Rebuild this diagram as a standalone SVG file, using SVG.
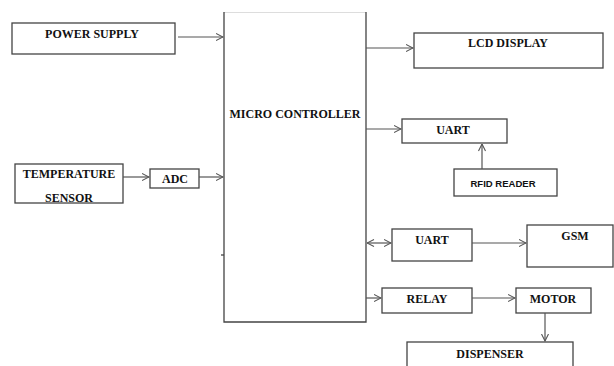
<svg xmlns="http://www.w3.org/2000/svg" width="614" height="366" viewBox="0 0 614 366">
<style>
.box{fill:#fff;stroke:#444;stroke-width:1.3}
.t{font-family:"Liberation Serif","Times New Roman",serif;font-weight:bold;font-size:12px;fill:#111;text-anchor:middle}
.s{font-family:"Liberation Sans",Arial,sans-serif;font-weight:bold;font-size:9.5px;fill:#111;text-anchor:middle}
.c{fill:none;stroke:#555;stroke-width:1.2}
</style>
<defs>
<marker id="ah" viewBox="0 0 8 8" refX="7.5" refY="4" markerWidth="8" markerHeight="8" markerUnits="userSpaceOnUse" orient="auto-start-reverse">
<path d="M0.5,0.5 L7.5,4 L0.5,7.5" fill="none" stroke="#555" stroke-width="1.1"/>
</marker>
</defs>
<rect width="614" height="366" fill="#fff"/>
<g id="mc">
<line x1="224" y1="12.5" x2="366" y2="12.5" stroke="#ddd" stroke-width="1"/>
<path d="M224,12 L224,322 L366,322 L366,12" fill="none" stroke="#444" stroke-width="1.3"/>
<text class="t" x="295" y="118">MICRO CONTROLLER</text>
<line x1="221" y1="255" x2="224" y2="255" stroke="#444" stroke-width="1.3"/>
</g>
<g id="power">
<rect class="box" x="12" y="23" width="163" height="31"/>
<text class="t" x="92" y="38">POWER SUPPLY</text>
</g>
<g id="lcd">
<rect class="box" x="414" y="33" width="189" height="35"/>
<text class="t" x="508" y="47">LCD DISPLAY</text>
</g>
<g id="temp">
<rect class="box" x="15" y="164" width="108" height="39"/>
<text class="t" x="69" y="178">TEMPERATURE</text>
<text class="t" x="69" y="202">SENSOR</text>
</g>
<g id="adc">
<rect class="box" x="150" y="169" width="49" height="19"/>
<text class="t" x="175" y="183">ADC</text>
</g>
<g id="uart1">
<rect class="box" x="402" y="119" width="105" height="24"/>
<text class="t" x="453" y="134">UART</text>
</g>
<g id="rfid">
<rect class="box" x="454" y="169" width="103" height="27"/>
<text class="s" x="503" y="187" textLength="65" lengthAdjust="spacingAndGlyphs">RFID READER</text>
</g>
<g id="uart2">
<rect class="box" x="392" y="229" width="80" height="32"/>
<text class="t" x="432" y="244">UART</text>
</g>
<g id="gsm">
<rect class="box" x="527" y="225" width="86" height="42"/>
<text class="t" x="575" y="240">GSM</text>
</g>
<g id="relay">
<rect class="box" x="382" y="288" width="90" height="25"/>
<text class="t" x="427" y="303">RELAY</text>
</g>
<g id="motor">
<rect class="box" x="516" y="288" width="75" height="25"/>
<text class="t" x="553" y="303">MOTOR</text>
</g>
<g id="dispenser">
<rect class="box" x="407" y="342" width="166" height="30"/>
<text class="t" x="490" y="358">DISPENSER</text>
</g>
<g id="connectors">
<line class="c" x1="178" y1="37" x2="223" y2="37" marker-end="url(#ah)"/>
<line class="c" x1="123" y1="177" x2="149" y2="177" marker-end="url(#ah)"/>
<line class="c" x1="199" y1="177" x2="223" y2="177" marker-end="url(#ah)"/>
<line class="c" x1="366" y1="48" x2="413" y2="48" marker-end="url(#ah)"/>
<line class="c" x1="366" y1="129" x2="401" y2="129" marker-end="url(#ah)"/>
<line class="c" x1="482" y1="169" x2="482" y2="144" marker-end="url(#ah)"/>
<line class="c" x1="367" y1="243" x2="391" y2="243" marker-start="url(#ah)" marker-end="url(#ah)"/>
<line class="c" x1="472" y1="243" x2="526" y2="243" marker-end="url(#ah)"/>
<line class="c" x1="366" y1="298" x2="381" y2="298" marker-end="url(#ah)"/>
<line class="c" x1="472" y1="298" x2="515" y2="298" marker-end="url(#ah)"/>
<line class="c" x1="545" y1="313" x2="545" y2="341" marker-end="url(#ah)"/>
</g>
</svg>
